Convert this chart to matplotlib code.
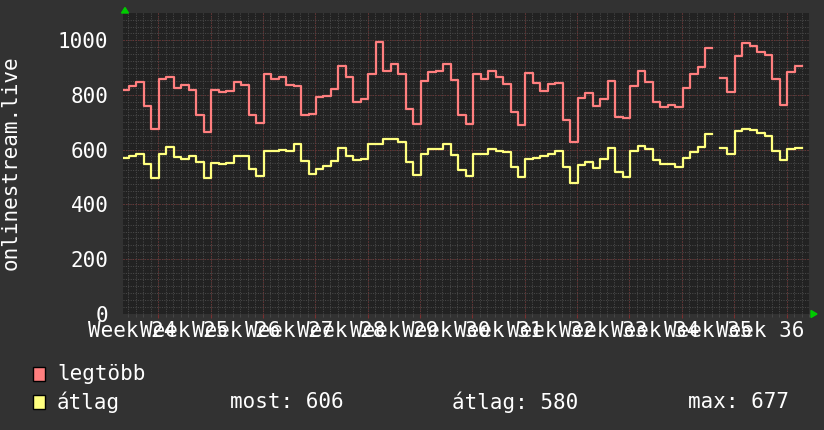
import numpy as np
import matplotlib
matplotlib.use('Agg')
import matplotlib.pyplot as plt
from matplotlib.patches import Rectangle, Polygon

# daily values, day 0 = first day on the chart, one missing day (nan)
legtobb = [817, 831, 847, 758, 674, 860, 865, 825, 835, 819, 727, 664, 817, 811, 814,
           847, 835, 727, 699, 877, 860, 865, 835, 831, 727, 731, 791, 797, 822, 905,
           865, 776, 786, 877, 994, 887, 914, 877, 750, 694, 850, 883, 887, 914, 853,
           726, 693, 875, 858, 888, 866, 840, 736, 690, 881, 845, 815, 840, 842, 708,
           629, 790, 808, 759, 784, 852, 720, 714,
           834, 888, 848, 773, 757, 763, 757, 824, 875, 903, 973, np.nan, 863, 812, 942,
           991, 979, 958, 948, 857, 763, 885, 906]
atlag = [571, 576, 583, 546, 496, 583, 610, 573, 567, 576, 555, 496, 552, 546, 552,
         576, 576, 530, 503, 595, 595, 598, 595, 620, 558, 512, 528, 540, 558, 604,
         576, 563, 567, 620, 622, 637, 637, 626, 555, 508, 585, 601, 601, 622, 579,
         525, 504, 584, 584, 602, 596, 590, 537, 501, 564, 571, 576, 584, 596, 537,
         479, 543, 555, 531, 564, 604, 519, 501,
         596, 613, 601, 562, 547, 547, 537, 568, 592, 610, 656, np.nan, 604, 584, 669,
         677, 671, 662, 649, 596, 562, 601, 606]
week_labels = ['Week %d' % w for w in range(24, 37)]
y_ticks = [0, 200, 400, 600, 800, 1000]
legend_names = ['legtöbb', 'átlag']
legend_stats = ['most: 606', 'átlag: 580', 'max: 677']

W, H = 824, 430
bg = '#323232'
red = '#ff7f7f'
yellow = '#ffff7f'
mono = 'DejaVu Sans Mono'
minor_col = '#4a4a4a'
major_col = '#7a3030'

fig = plt.figure(figsize=(W / 100, H / 100), dpi=100, facecolor=bg)
ax = fig.add_axes([123 / W, 1 - 313.5 / H, (809 - 123) / W, (313.5 - 13) / H])
ax.set_facecolor('#222222')

# x in days, day i spans [i, i+1]
xs = np.arange(len(legtobb) + 1)
r = np.append(legtobb, legtobb[-1])
a = np.append(atlag, atlag[-1])

# grid
minor_x = np.arange(0.9, 92, 1)
major_x = np.arange(4.9, 92, 7)
for x in minor_x:
    ax.axvline(x, color=minor_col, lw=0.72, ls=(0, (1, 1.4)), zorder=1)
for y in np.arange(0, 1100, 25):
    ax.axhline(y, color=minor_col, lw=0.72, ls=(0, (1, 1.4)), zorder=1)
for x in major_x:
    ax.axvline(x, color=major_col, lw=0.72, ls=(0, (1, 2)), zorder=2)
for y in y_ticks:
    ax.axhline(y, color=major_col, lw=0.72, ls=(0, (1, 2)), zorder=2)

ax.step(xs, r, where='post', color=red, lw=1.6, zorder=3)
ax.step(xs, a, where='post', color=yellow, lw=1.6, zorder=3)

ax.set_xlim(0.2, 91.67)
ax.set_ylim(0, 1100)
for s in ax.spines.values():
    s.set_visible(False)

ax.set_xticks(major_x)
ax.set_xticks(minor_x, minor=True)
ax.tick_params(axis='x', which='major', length=3, color=major_col, labelbottom=False)
ax.tick_params(axis='x', which='minor', length=2, color=minor_col)
ax.set_yticks(y_ticks)
ax.set_yticklabels([str(v) for v in y_ticks], family=mono, fontsize=15, color='white')
ax.tick_params(axis='y', length=0, pad=10.5)

# week labels (they overlap in the original too)
tr = matplotlib.transforms.blended_transform_factory(ax.transData, fig.transFigure)
for k, lab in enumerate(week_labels):
    ax.text(1.39 + 7 * k, 1 - 331 / H, lab, transform=tr,
            ha='center', va='center', family=mono, fontsize=15, color='white')

fig.text(11 / W, 1 - 163 / H, 'onlinestream.live', rotation=90, ha='center', va='center',
         family=mono, fontsize=15, color='white')

# arrows
fig.patches.append(Polygon([[121.5 / W, 1 - 13 / H], [128.5 / W, 1 - 13 / H], [125 / W, 1 - 7.5 / H]],
                           closed=True, color='#00cc00', transform=fig.transFigure))
fig.patches.append(Polygon([[811 / W, 1 - 310.5 / H], [811 / W, 1 - 317.5 / H], [817 / W, 1 - 314 / H]],
                           closed=True, color='#00cc00', transform=fig.transFigure))

# legend
for i, (name, col) in enumerate(zip(legend_names, [red, yellow])):
    yc = 374 + 28 * i
    fig.patches.append(Rectangle((33 / W, 1 - (yc + 7) / H), 12 / W, 14 / H, facecolor=col,
                                 edgecolor='black', lw=1, transform=fig.transFigure))
    fig.text(57 / W, 1 - yc / H, name, ha='left', va='center', family=mono, fontsize=15, color='white')
for x0, txt in zip([230, 452, 688], legend_stats):
    fig.text(x0 / W, 1 - 402 / H, txt, ha='left', va='center', family=mono, fontsize=15, color='white')

fig.savefig('out.png', dpi=100, facecolor=bg)
